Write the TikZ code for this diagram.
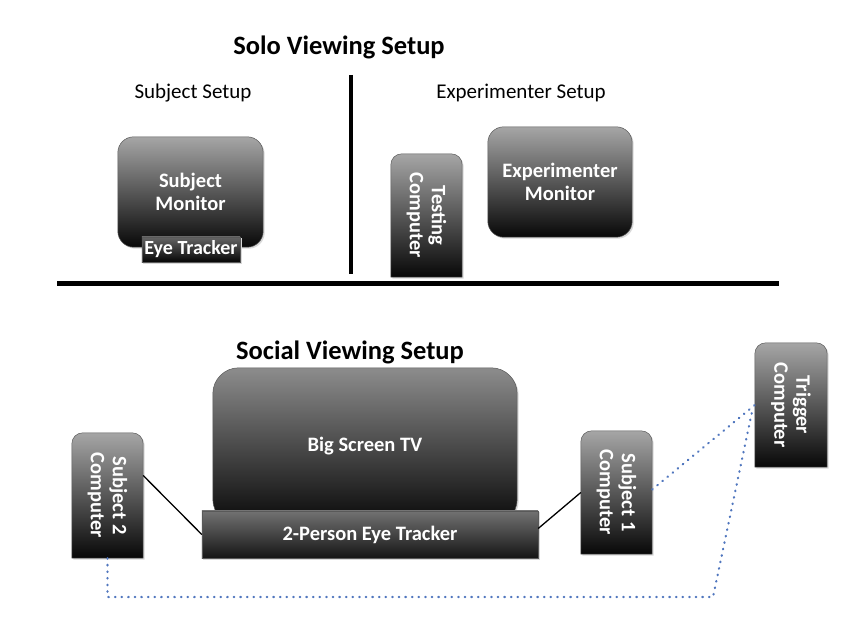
\documentclass[tikz,border=0pt]{standalone}
\usepackage{fontspec}
\setmainfont{Carlito}
\usetikzlibrary{backgrounds,calc}
\definecolor{dotblue}{RGB}{80,118,190}
\tikzset{
  x=1pt, y=-1pt,
  box/.style={draw=none, inner sep=0pt, text=white, align=center,
    font=\bfseries\fontsize{20.5}{23}\selectfont},
  vtext/.style={inner sep=0pt, text=white, align=center, rotate=-90,
    font=\bfseries\fontsize{20.5}{22}\selectfont},
  title/.style={font=\bfseries\fontsize{26.5}{30}\selectfont, inner sep=0pt},
  sub/.style={font=\fontsize{21}{24}\selectfont, inner sep=0pt},
  grad/.style={top color=black!35, bottom color=black!97, draw=black!65, line width=0.5pt},
  darkgrad/.style={top color=black!60, bottom color=black!98, draw=black!65, line width=0.5pt},
  wire/.style={draw=black, line width=1.3pt},
  dots/.style={draw=dotblue, line width=2.2pt, line cap=round, dash pattern=on 0.6pt off 6pt},
}
\newcommand\rbox[3]{%
  \path[fill=black!15, rounded corners=#2] ([shift={(1.5pt,-1.5pt)}]#1.south west) rectangle ([shift={(1.5pt,-1.5pt)}]#1.north east);
  \path[#3, rounded corners=#2] (#1.south west) rectangle (#1.north east);}
\newcommand\tbox[3]{%
  \path[fill=black!15] ([shift={(1.5pt,-1.5pt)}]#1.south west) [rounded corners=#2] -- ([shift={(1.5pt,-1.5pt)}]#1.north west) -- ([shift={(1.5pt,-1.5pt)}]#1.north east) [sharp corners] -- ([shift={(1.5pt,-1.5pt)}]#1.south east) -- cycle;
  \path[#3] (#1.south west) [rounded corners=#2] -- (#1.north west) -- (#1.north east) [sharp corners] -- (#1.south east) -- cycle;}
\begin{document}
\begin{tikzpicture}
\useasboundingbox (0,0) rectangle (847,639);
% Solo
\node[title] (t1) at (339,47) {Solo Viewing Setup};
\node[sub] (st1) at (193,93) {Subject Setup};
\node[sub] (st2) at (521,93) {Experimenter Setup};
\coordinate (vtop) at (351,75);
\coordinate (vbot) at (351,274);
\draw[line width=4pt] (vtop) -- (vbot);
\coordinate (hl) at (57,284);
\coordinate (hr) at (779,284);
\draw[line width=5pt] (hl) -- (hr);

\node[box, minimum width=145pt, minimum height=110pt] (sm) at (190.5,192) {Subject\\Monitor};
\node[box, minimum width=98pt, minimum height=25pt, font=\bfseries\fontsize{20}{22}\selectfont] (et) at (191,249.5) {Eye Tracker};
\node[box, minimum width=71pt, minimum height=123pt] (tc) at (426.5,215.5) {};
\node[vtext] (tct) at (tc.center) {Testing\\Computer};
\node[box, minimum width=144pt, minimum height=110pt] (em) at (560,182) {Experimenter\\Monitor};

% Social
\node[title] (t2) at (350,352) {Social Viewing Setup};
\node[box, minimum width=304pt, minimum height=157pt] (tv) at (365,446.5) {Big Screen TV};
\node[box, minimum width=336pt, minimum height=47pt] (tr) at (370,534.5) {2-Person Eye Tracker};
\node[box, minimum width=71pt, minimum height=125pt] (s2) at (107.5,495.5) {};
\node[vtext] (s2t) at (s2.center) {Subject 2\\Computer};
\node[box, minimum width=71pt, minimum height=123pt] (s1) at (616.5,492.5) {};
\node[vtext] (s1t) at (s1.center) {Subject 1\\Computer};
\node[box, minimum width=72pt, minimum height=124pt] (tg) at (791,405) {};
\node[vtext] (tgt) at (tg.center) {Trigger\\Computer};

\begin{pgfonlayer}{background}
  \rbox{sm}{16pt}{grad}
  \rbox{et}{0pt}{darkgrad}
  \tbox{tc}{11pt}{grad}
  \rbox{em}{16pt}{grad}
  \rbox{tv}{26pt}{top color=black!45, bottom color=black!97, draw=black!65, line width=0.5pt}
  \rbox{tr}{0pt}{top color=black!55, bottom color=black!92, draw=black!65, line width=0.5pt}
  \tbox{s2}{11pt}{grad}
  \tbox{s1}{11pt}{grad}
  \tbox{tg}{11pt}{grad}
\end{pgfonlayer}

\draw[wire] ([yshift=20pt]s2.east) -- (tr.west);
\draw[wire] ([yshift=6pt]tr.east) -- (s1.west);
\draw[dots] ([yshift=3pt]s1.east) -- (tg.west);
\coordinate (c1) at (713,597);
\draw[dots] (s2.south) |- (c1) -- ([xshift=-2pt,yshift=-3pt]tg.west);
\end{tikzpicture}
\end{document}
